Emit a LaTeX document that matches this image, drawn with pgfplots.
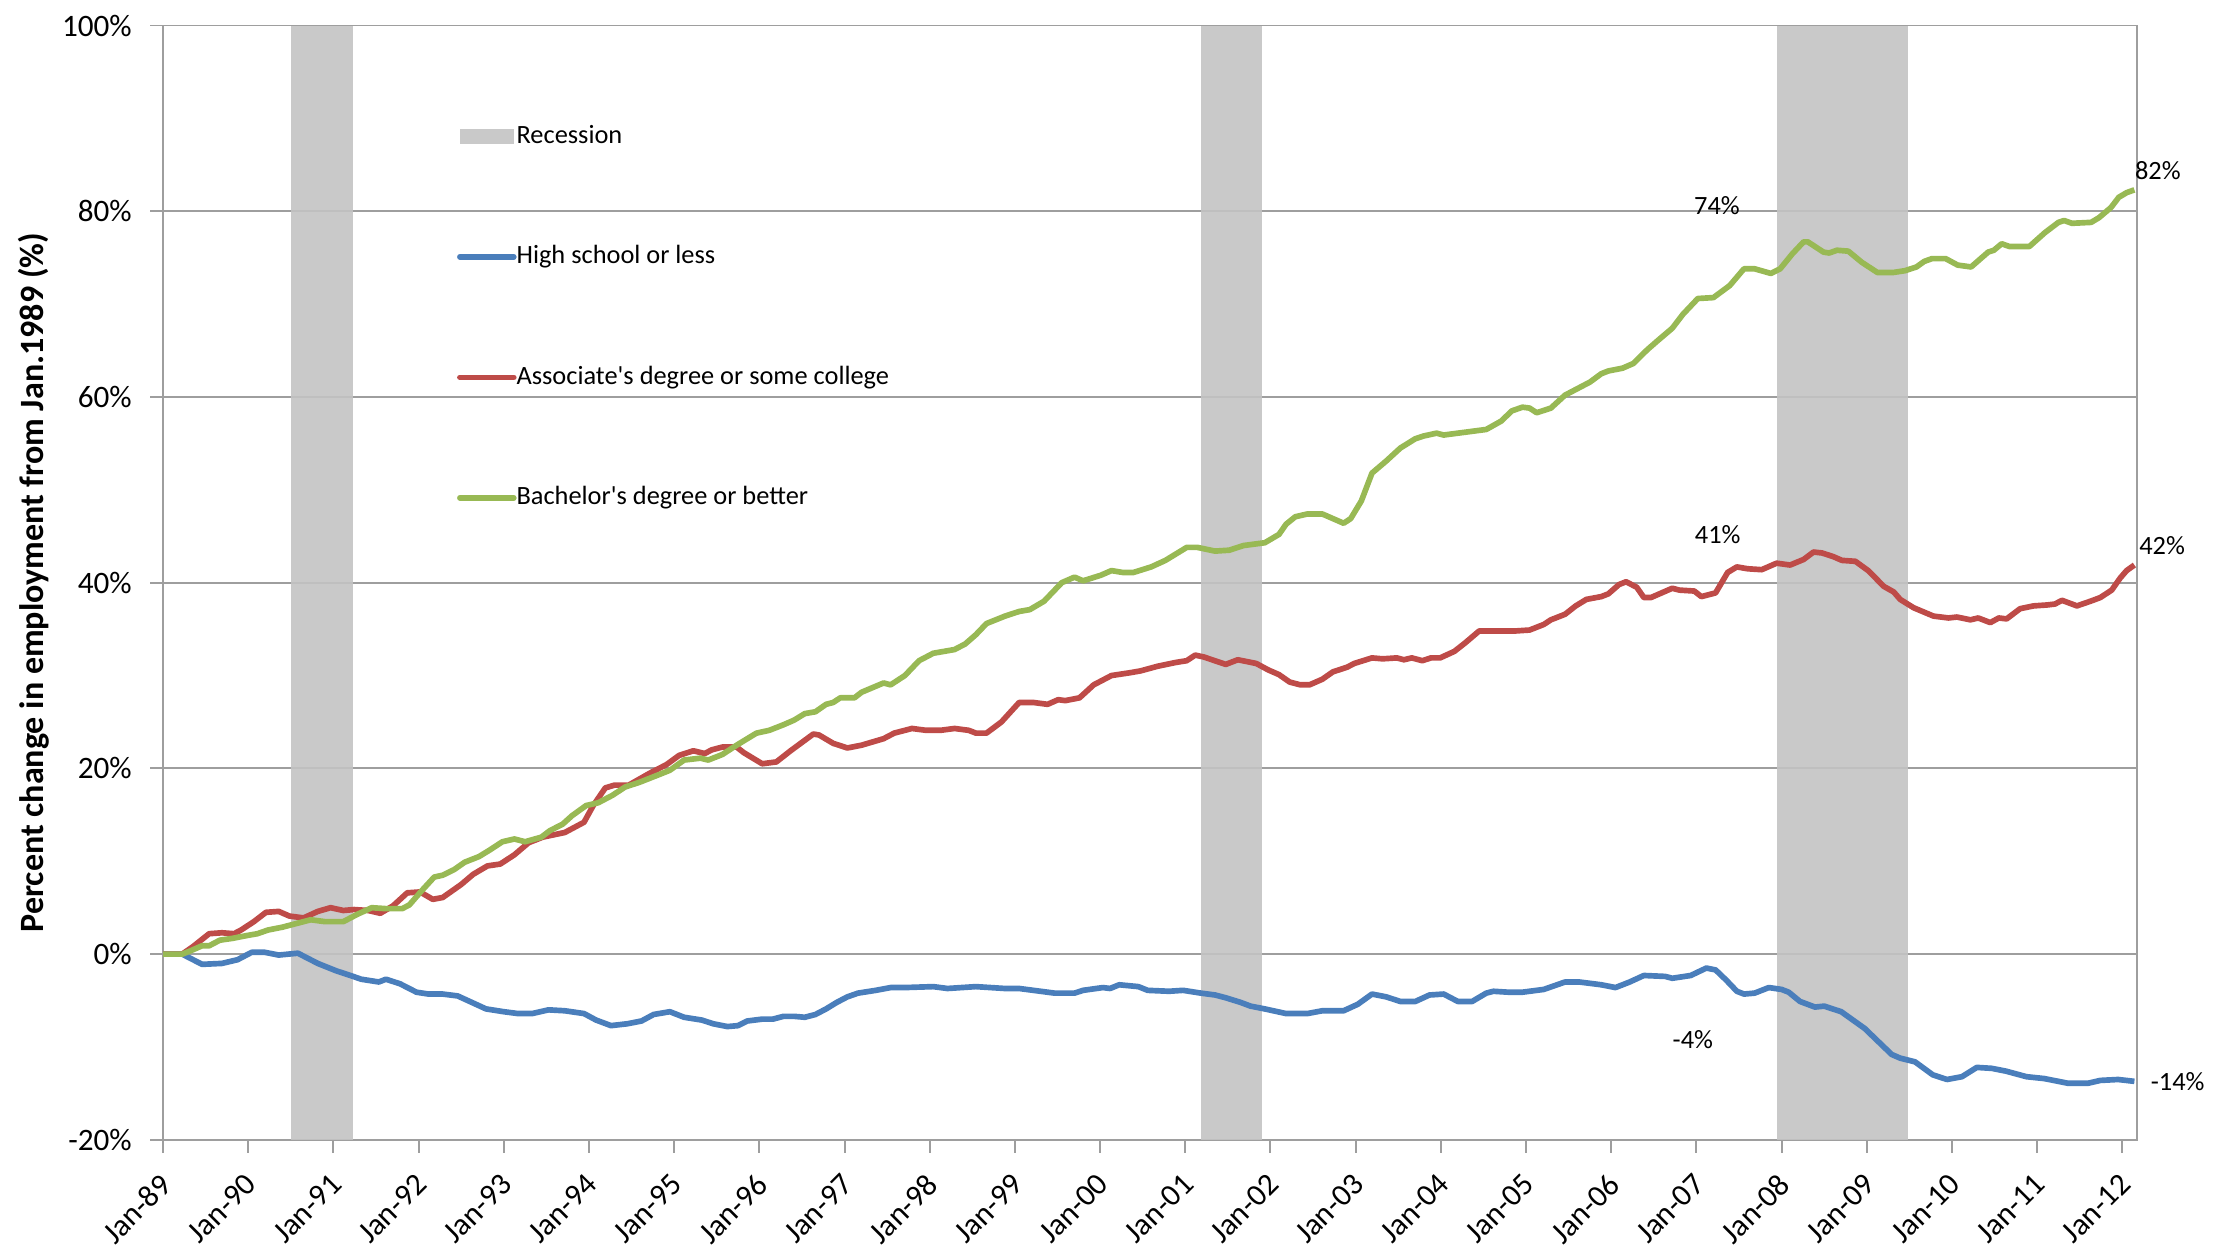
\documentclass[border=0pt]{standalone}
\usepackage{fontspec}
\setmainfont{Carlito}
\usepackage{pgfplots}
\pgfplotsset{compat=1.18}
\definecolor{hsblue}{HTML}{4A7EBB}
\definecolor{asred}{HTML}{BE4B48}
\definecolor{bagreen}{HTML}{98B954}
\definecolor{recgray}{HTML}{C3C3C3}
\definecolor{gridgray}{HTML}{9E9E9E}
\pgfplotsset{lineleg/.style={legend image code/.code={\draw[##1, line cap=round] (0pt,0pt) -- (19pt,0pt);}}}
\begin{document}
\begin{tikzpicture}
\begin{axis}[
  scale only axis, width=696pt, height=393pt,
  xmin=0, xmax=278, ymin=-20, ymax=100,
  clip=false,
  axis line style={gridgray, line width=0.7pt},
  tick style={gridgray, line width=0.7pt},
  tick align=outside, major tick length=4.5pt,
  xtick pos=bottom, ytick pos=left,
  xtick={0,12,...,276},
  xticklabels={Jan-89,Jan-90,Jan-91,Jan-92,Jan-93,Jan-94,Jan-95,Jan-96,Jan-97,Jan-98,Jan-99,Jan-00,Jan-01,Jan-02,Jan-03,Jan-04,Jan-05,Jan-06,Jan-07,Jan-08,Jan-09,Jan-10,Jan-11,Jan-12},
  ytick={-20,0,20,40,60,80,100},
  /pgf/number format/assume math mode=true,
  yticklabel={\pgfmathprintnumber{\tick}\%},
  ymajorgrids, grid style={gridgray, line width=0.7pt},
  ticklabel style={font=\fontsize{11}{13}\selectfont, text=black},
  xticklabel style={xshift=3.5pt, yshift=-7pt, rotate=45, anchor=east},
  yticklabel style={anchor=east, xshift=-3pt},
  ylabel={Percent change in employment from Jan.1989 (\%)},
  ylabel style={font=\fontsize{12}{14}\selectfont\bfseries, at={(axis description cs:-0.0654,0.5)}, anchor=center},
  legend style={at={(rel axis cs:0.1487,0.9125)}, anchor=north west, draw=none, fill=none,
    font=\fontsize{9.3}{11}\selectfont, inner sep=0pt, row sep=33.5pt, column sep=0pt,
    nodes={inner sep=0pt, text height=7pt, text depth=2pt}},
  legend cell align=left,
]
\coordinate (SW) at (rel axis cs:0,0);
\coordinate (NE) at (rel axis cs:1,1);

\addplot[draw=none, fill=recgray, fill opacity=0.9,
  legend image code/.code={\fill[recgray] (0pt,-2.75pt) rectangle (19pt,2.75pt);}]
  coordinates {(18,-20) (18,100) (26.8,100) (26.8,-20)} -- cycle;
\addlegendentry{Recession}
\addplot[draw=none, fill=recgray, fill opacity=0.9, forget plot]
  coordinates {(146.2,-20) (146.2,100) (154.8,100) (154.8,-20)} -- cycle;
\addplot[draw=none, fill=recgray, fill opacity=0.9, forget plot]
  coordinates {(227.3,-20) (227.3,100) (245.8,100) (245.8,-20)} -- cycle;

% High school or less
\addplot[hsblue, line width=2pt, line join=round, lineleg]
table {
x y
0 0
2.7 0
5.5 -1.1
8.3 -1.0
10.5 -0.6
12.5 0.2
14.3 0.2
16.3 -0.1
19 0.1
21.8 -1.0
24.4 -1.8
26.4 -2.3
27.9 -2.7
30.4 -3.0
31.4 -2.7
33.4 -3.2
35.7 -4.1
37.4 -4.3
39.4 -4.3
41.5 -4.5
43.5 -5.2
45.5 -5.9
48 -6.2
50 -6.4
52 -6.4
54.3 -6.0
56.6 -6.1
59.3 -6.4
61 -7.1
63.1 -7.7
65.4 -7.5
67.4 -7.2
69.1 -6.5
71.4 -6.2
73.4 -6.8
75.9 -7.1
77.5 -7.5
79.5 -7.8
81 -7.7
82.3 -7.2
84.4 -7.0
85.9 -7.0
87.4 -6.7
88.9 -6.7
90.4 -6.8
91.9 -6.5
93.4 -5.9
94.9 -5.2
96.4 -4.6
97.9 -4.2
100.4 -3.9
102.5 -3.6
104.5 -3.6
108.5 -3.5
110.5 -3.7
114.5 -3.5
118.6 -3.7
120.6 -3.7
123.6 -4.0
125.6 -4.2
128.4 -4.2
129.6 -3.9
132.4 -3.6
133.4 -3.7
134.7 -3.3
137.4 -3.5
138.7 -3.9
141.7 -4.0
143.7 -3.9
146.2 -4.2
148.2 -4.4
149.7 -4.7
151.8 -5.2
153.2 -5.6
155.2 -5.9
158.2 -6.4
161.2 -6.4
163.3 -6.1
166.3 -6.1
168.3 -5.4
170.3 -4.3
172.3 -4.6
174.3 -5.1
176.4 -5.1
178.4 -4.4
180.4 -4.3
182.4 -5.1
184.4 -5.1
186.4 -4.2
187.4 -4.0
189.5 -4.1
191.5 -4.1
194.5 -3.8
197.5 -3.0
199.5 -3.0
202.6 -3.3
204.6 -3.6
206.6 -3.0
208.6 -2.3
211.6 -2.4
212.6 -2.6
215.2 -2.3
217.4 -1.5
218.7 -1.7
220.2 -2.8
221.7 -4.0
222.7 -4.3
224.2 -4.2
226.2 -3.6
228 -3.8
229 -4.1
230.6 -5.1
232.7 -5.7
234 -5.6
236.4 -6.2
239.7 -8.0
243.5 -10.8
244.7 -11.2
246.8 -11.6
249.3 -13.0
251.3 -13.5
253.4 -13.2
255.5 -12.2
257.6 -12.3
259.6 -12.6
262.5 -13.2
265 -13.4
268.3 -13.9
271.2 -13.9
272.9 -13.6
275.4 -13.5
277.7 -13.7
};
\addlegendentry{High school or less}

% Associate's degree or some college
\addplot[asred, line width=2pt, line join=round, lineleg]
table {
x y
0 0
2.7 0
4.2 0.8
6.5 2.2
8.3 2.3
10 2.2
11 2.6
12.8 3.5
14.5 4.5
16.3 4.6
17.8 4.1
19.8 3.9
21.8 4.6
23.6 5.0
25.4 4.7
26.9 4.8
28.9 4.7
30.6 4.4
32.4 5.2
34.4 6.6
36.2 6.7
38 5.9
39.4 6.1
42 7.5
43.7 8.6
45.7 9.5
47.5 9.7
49.5 10.7
51.5 12.0
53.5 12.6
56.6 13.1
59.3 14.2
60.6 16.0
62.3 17.9
63.6 18.2
65.6 18.2
68.6 19.5
70.9 20.4
72.7 21.4
74.7 21.9
76.3 21.6
77.3 22.0
78.8 22.3
80.8 22.3
81.8 21.7
84.4 20.5
86.4 20.7
88.4 21.9
91.6 23.7
92.4 23.6
94.4 22.7
96.4 22.2
98.4 22.5
101.5 23.2
103 23.8
105.5 24.3
107.5 24.1
109.5 24.1
111.5 24.3
113.5 24.1
114.5 23.8
116 23.8
118.1 25.0
120.6 27.1
122.6 27.1
124.6 26.9
126.1 27.4
127.1 27.3
129.1 27.6
131.1 29.0
133.6 30.0
136.2 30.3
137.7 30.5
140.1 31.0
142.6 31.4
144.2 31.6
145.4 32.2
146.6 32.0
149.7 31.2
151.4 31.7
154 31.3
155.7 30.6
157.2 30.1
158.7 29.3
160.2 29.0
161.5 29.0
163.3 29.6
164.8 30.4
166.8 30.9
167.8 31.3
170.3 31.9
171.8 31.8
173.8 31.9
174.8 31.7
175.9 31.9
177.4 31.6
178.6 31.9
179.9 31.9
181.9 32.6
183.4 33.5
185.4 34.8
188.5 34.8
190.5 34.8
192.5 34.9
194.5 35.5
195.5 36.0
197.5 36.6
199 37.5
200.5 38.2
202.6 38.5
203.6 38.8
205.1 39.8
206.1 40.1
207.6 39.5
208.6 38.4
209.6 38.4
211.1 38.9
212.6 39.4
213.6 39.2
215.7 39.1
216.7 38.5
218.7 38.9
220.4 41.1
221.7 41.7
223.2 41.5
225.2 41.4
227.3 42.1
229.2 41.9
231.1 42.5
232.5 43.3
233.7 43.2
235.3 42.8
236.5 42.4
238.4 42.3
240.2 41.3
242.4 39.6
243.8 39.0
244.7 38.2
246.6 37.3
249.4 36.4
251.5 36.2
252.7 36.3
254.6 36.0
255.7 36.2
257.4 35.7
258.6 36.2
259.7 36.1
261.6 37.2
263.5 37.5
265.4 37.6
266.5 37.7
267.5 38.1
269.6 37.5
271.5 38.0
272.9 38.4
274.5 39.2
275.7 40.5
276.6 41.3
277.7 41.9
};
\addlegendentry{Associate\textquotesingle s degree or some college}

% Bachelor's degree or better
\addplot[bagreen, line width=2pt, line join=round, lineleg]
table {
x y
0 0
2.7 0
3.7 0.3
5.5 0.9
6.5 0.9
8 1.5
9.8 1.7
11.8 2.0
13.3 2.2
14.8 2.6
16.8 2.9
18.8 3.3
20.8 3.7
22.8 3.5
25.4 3.5
27.4 4.3
29.4 5.0
31.4 4.9
33.7 4.9
34.7 5.3
36.4 6.8
38.2 8.3
39.4 8.5
41 9.1
42.5 9.9
44.5 10.5
46 11.2
47.8 12.1
49.5 12.4
51 12.1
53.3 12.6
54.5 13.3
56.3 14.0
57.6 14.9
59.6 16.0
61.3 16.3
63.3 17.1
65.1 18.0
67.1 18.5
69.1 19.1
71.4 19.8
73.4 20.9
75.7 21.1
76.8 20.9
78.8 21.5
80.8 22.5
82.3 23.2
83.6 23.8
85.4 24.1
87.4 24.7
88.9 25.2
90.4 25.9
91.9 26.1
93.4 26.9
94.4 27.1
95.4 27.6
97.4 27.6
98.4 28.2
101.5 29.2
102.5 29.0
104.5 30.0
106.5 31.6
108.5 32.4
111.5 32.8
113 33.4
114.5 34.4
116 35.6
118.6 36.4
120.6 36.9
122.1 37.1
124.1 38.0
126.6 40.0
128.4 40.6
129.6 40.2
132.1 40.8
133.6 41.3
135.2 41.1
136.7 41.1
139.2 41.7
141.2 42.4
144.2 43.8
145.7 43.8
148.2 43.4
150.2 43.5
152.2 44.0
155.2 44.3
157.2 45.2
158.2 46.3
159.5 47.1
161.2 47.4
163.3 47.4
164.8 46.9
166.3 46.4
167.3 46.9
168.8 48.8
170.3 51.8
172.3 53.1
174.3 54.5
176.4 55.5
177.6 55.8
179.4 56.1
180.4 55.9
182.4 56.1
184.4 56.3
186.4 56.5
188.5 57.4
190 58.5
191.5 58.9
192.5 58.8
193.5 58.3
195.5 58.8
197.5 60.2
199.5 61.0
201 61.6
202.6 62.5
203.6 62.8
205.6 63.1
207.1 63.6
209.1 65.1
210.6 66.1
212.6 67.4
214.1 68.9
216.2 70.6
218.4 70.7
220.7 72.0
222.7 73.8
224.2 73.8
226.5 73.3
227.8 73.8
229.5 75.4
231.1 76.7
231.7 76.7
233.9 75.6
234.7 75.5
235.8 75.8
237.4 75.7
239.3 74.5
241.5 73.4
243.7 73.4
245.4 73.6
247 74.0
248.1 74.6
249.2 74.9
251.1 74.9
252.8 74.2
254.7 74.0
257.1 75.6
257.9 75.8
259 76.5
260.1 76.2
262.9 76.2
265.1 77.7
267 78.8
267.8 79.0
268.9 78.7
271.6 78.8
272.7 79.3
274.4 80.4
275.5 81.5
276.6 82.0
277.7 82.3
};
\addlegendentry{Bachelor\textquotesingle s degree or better}

\node[font=\fontsize{9.3}{11}\selectfont] at (axis cs:218.9,80.6) {74\%};
\node[font=\fontsize{9.3}{11}\selectfont] at (axis cs:219,45.2) {41\%};
\node[font=\fontsize{9.3}{11}\selectfont] at (axis cs:215.5,-9.2) {-4\%};
\node[font=\fontsize{9.3}{11}\selectfont] at (axis cs:281,84.4) {82\%};
\node[font=\fontsize{9.3}{11}\selectfont] at (axis cs:281.6,44.0) {42\%};
\node[font=\fontsize{9.3}{11}\selectfont] at (axis cs:283.8,-13.7) {-14\%};
\end{axis}
\pgfresetboundingbox
\path[use as bounding box] ([shift={(-57.5pt,-39.5pt)}]SW) rectangle ([shift={(30.5pt,9pt)}]NE);
\end{tikzpicture}
\end{document}
